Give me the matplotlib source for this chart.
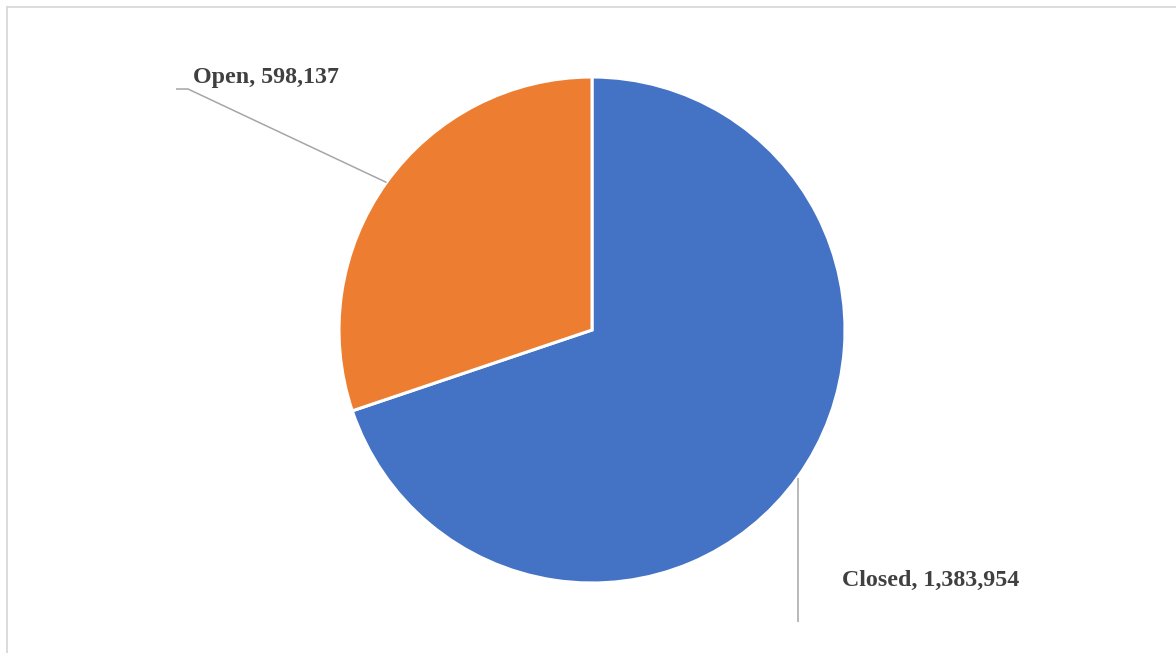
import numpy as np
import matplotlib
matplotlib.use("Agg")
import matplotlib.pyplot as plt
from matplotlib.lines import Line2D

categories = ["Closed", "Open"]
values = [1383954, 598137]
colors = ["#4472C4", "#ED7D31"]

W, H = 1176, 653
fig = plt.figure(figsize=(W / 100, H / 100), dpi=100)
fig.patch.set_facecolor("white")
ax = fig.add_axes([0, 0, 1, 1])

cx, cy, r = 592, H - 330, 253
wedges, _ = ax.pie(values, colors=colors, startangle=90, counterclock=False,
                   center=(cx, cy), radius=r,
                   wedgeprops=dict(edgecolor="white", linewidth=2.2))
ax.set_xlim(0, W)
ax.set_ylim(0, H)
ax.set_aspect("equal")
ax.axis("off")

# chart border (top and left visible)
fig.add_artist(Line2D([6.5 / W, 6.5 / W], [0, 1 - 6.5 / H], transform=fig.transFigure,
                      color="#D9D9D9", lw=1.3))
fig.add_artist(Line2D([6.5 / W, 1], [1 - 6.5 / H, 1 - 6.5 / H], transform=fig.transFigure,
                      color="#D9D9D9", lw=1.3))

def mid_point(w):
    a = np.deg2rad((w.theta1 + w.theta2) / 2)
    return cx + r * np.cos(a), cy + r * np.sin(a)

lead_color = "#A6A6A6"
txt_color = "#404040"
font = dict(family=["Liberation Serif", "DejaVu Serif"], fontsize=17.3, fontweight="bold",
            color=txt_color)

# Open label
sx, sy = mid_point(wedges[1])
ax.plot([sx, 188, 176], [sy, H - 89, H - 89], color=lead_color, lw=1.1,
        solid_capstyle="butt")
ax.text(193, H - 83, f"{categories[1]}, {values[1]:,}", ha="left", va="baseline", **font)

# Closed label
sx, sy = mid_point(wedges[0])
ax.plot([sx, sx], [sy, H - 622], color=lead_color, lw=1.1, solid_capstyle="butt")
ax.text(842, H - 586, f"{categories[0]}, {values[0]:,}", ha="left", va="baseline", **font)

fig.savefig("out.png", dpi=100, facecolor="white")
